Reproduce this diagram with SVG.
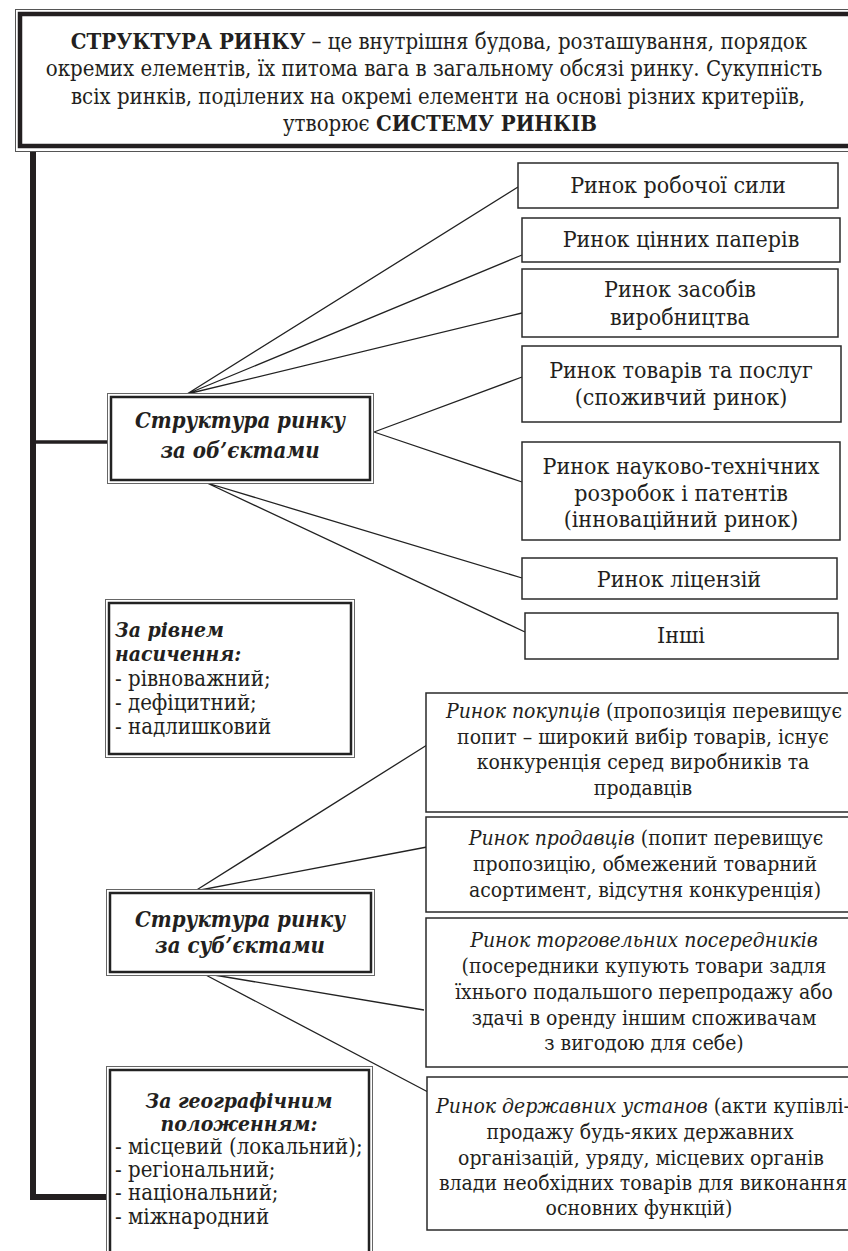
<svg xmlns="http://www.w3.org/2000/svg" width="848" height="1251" viewBox="0 0 848 1251">
<style>
.t{font-family:"DejaVu Serif Condensed","DejaVu Serif","Liberation Serif",serif;font-stretch:condensed;font-size:22px;fill:#231f20}
.r{font-size:23px}
.s{font-size:21px}
.c{text-anchor:middle}
.b{font-weight:bold}
.i{font-style:italic}
.bi{font-weight:bold;font-style:italic}
.box{fill:#fff;stroke:#2a2a2a;stroke-width:1.5}
.outer{fill:#fff;stroke:#666;stroke-width:1}
.inner{fill:none;stroke:#222;stroke-width:2.5}
.ln{stroke:#222;stroke-width:1.3;fill:none}
</style>
<rect width="848" height="1251" fill="#fff"/>
<g id="connectors">
<path d="M33,148 V1197 H108" fill="none" stroke="#231f20" stroke-width="6"/>
<line x1="33" y1="442" x2="108" y2="442" stroke="#231f20" stroke-width="3.5"/>
<path class="ln" d="M187,394 L518,187 M187,394 L522,255 M187,394 L522,313 M374,432 L522,377 M374,432 L522,482 M207,483 L522,578 M207,483 L525,632"/>
<path class="ln" d="M195,891 L427,745 M195,891 L427,847 M202,973 L424,1010 M202,973 L428,1092"/>
</g>
<g id="title">
<rect x="15.5" y="9.5" width="850" height="142" fill="#fff" stroke="#555" stroke-width="1"/>
<rect x="20" y="14" width="850" height="132" fill="none" stroke="#231f20" stroke-width="4.5"/>
<text class="t c" x="439" y="49"><tspan class="b">СТРУКТУРА РИНКУ</tspan> – це внутрішня будова, розташування, порядок</text>
<text class="t c" x="434" y="76">окремих елементів, їх питома вага в загальному обсязі ринку. Сукупність</text>
<text class="t c" x="438" y="104">всіх ринків, поділених на окремі елементи на основі різних критеріїв,</text>
<text class="t c" x="440" y="131">утворює <tspan class="b">СИСТЕМУ РИНКІВ</tspan></text>
</g>
<g id="objects">
<rect class="outer" x="107.5" y="393.5" width="266" height="90"/>
<rect class="inner" x="111" y="397" width="259" height="83"/>
<text class="t c bi" x="240" y="428">Структура ринку</text>
<text class="t c bi" x="240" y="458">за об’єктами</text>
</g>
<g id="o1"><rect class="box" x="518" y="163" width="320" height="45"/><text class="t r c" x="678" y="193">Ринок робочої сили</text></g>
<g id="o2"><rect class="box" x="522" y="218" width="318" height="44"/><text class="t r c" x="681" y="247">Ринок цінних паперів</text></g>
<g id="o3"><rect class="box" x="522" y="269" width="316" height="68"/><text class="t r c" x="680" y="297">Ринок засобів</text><text class="t r c" x="680" y="325">виробництва</text></g>
<g id="o4"><rect class="box" x="522" y="346" width="319" height="76"/><text class="t r c" x="681" y="378">Ринок товарів та послуг</text><text class="t r c" x="681" y="405">(споживчий ринок)</text></g>
<g id="o5"><rect class="box" x="522" y="442" width="318" height="98"/><text class="t r c" x="681" y="474">Ринок науково-технічних</text><text class="t r c" x="681" y="501">розробок і патентів</text><text class="t r c" x="681" y="527">(інноваційний ринок)</text></g>
<g id="o6"><rect class="box" x="522" y="558" width="315" height="41"/><text class="t r c" x="679" y="587">Ринок ліцензій</text></g>
<g id="o7"><rect class="box" x="525" y="613" width="313" height="46"/><text class="t r c" x="681" y="643">Інші</text></g>
<g id="saturation">
<rect class="outer" x="105.5" y="599.5" width="249" height="158"/>
<rect class="inner" x="109" y="603" width="242" height="151"/>
<text class="t s bi" x="115" y="637">За рівнем</text>
<text class="t s bi" x="115" y="661">насичення:</text>
<text class="t" x="115" y="686">- рівноважний;</text>
<text class="t" x="115" y="710">- дефіцитний;</text>
<text class="t" x="115" y="734">- надлишковий</text>
</g>
<g id="subjects">
<rect class="outer" x="106.5" y="889.5" width="268" height="86"/>
<rect class="inner" x="110" y="893" width="261" height="79"/>
<text class="t c bi" x="240" y="927">Структура ринку</text>
<text class="t c bi" x="240" y="953">за суб’єктами</text>
</g>
<g id="s1"><rect class="box" x="426" y="693" width="425" height="119"/>
<text class="t s c" x="644" y="718"><tspan class="i">Ринок покупців</tspan> (пропозиція перевищує</text>
<text class="t s c" x="643" y="744">попит – широкий вибір товарів, існує</text>
<text class="t s c" x="643" y="769">конкуренція серед виробників та</text>
<text class="t s c" x="643" y="795">продавців</text></g>
<g id="s2"><rect class="box" x="426" y="817" width="425" height="95"/>
<text class="t s c" x="646" y="845"><tspan class="i">Ринок продавців</tspan> (попит перевищує</text>
<text class="t s c" x="645" y="871">пропозицію, обмежений товарний</text>
<text class="t s c" x="645" y="897">асортимент, відсутня конкуренція)</text></g>
<g id="s3"><rect class="box" x="426" y="918" width="425" height="149"/>
<text class="t s c i" x="644" y="947">Ринок торговельних посередників</text>
<text class="t s c" x="644" y="973">(посередники купують товари задля</text>
<text class="t s c" x="644" y="999">їхнього подальшого перепродажу або</text>
<text class="t s c" x="644" y="1025">здачі в оренду іншим споживачам</text>
<text class="t s c" x="644" y="1050">з вигодою для себе)</text></g>
<g id="s4"><rect class="box" x="427" y="1077" width="425" height="153"/>
<text class="t s c" x="643" y="1113"><tspan class="i">Ринок державних установ</tspan> (акти купівлі-</text>
<text class="t s c" x="640" y="1139">продажу будь-яких державних</text>
<text class="t s c" x="641" y="1165">організацій, уряду, місцевих органів</text>
<text class="t s c" x="643" y="1190">влади необхідних товарів для виконання</text>
<text class="t s c" x="639" y="1215">основних функцій)</text></g>
<g id="geography">
<rect class="outer" x="106.5" y="1066.5" width="266" height="195"/>
<rect class="inner" x="110" y="1070" width="259" height="195"/>
<text class="t s c bi" x="239" y="1108">За географічним</text>
<text class="t s c bi" x="239" y="1131">положенням:</text>
<text class="t" x="115" y="1154">- місцевий (локальний);</text>
<text class="t" x="115" y="1177">- регіональний;</text>
<text class="t" x="115" y="1200">- національний;</text>
<text class="t" x="115" y="1224">- міжнародний</text>
</g>
</svg>
